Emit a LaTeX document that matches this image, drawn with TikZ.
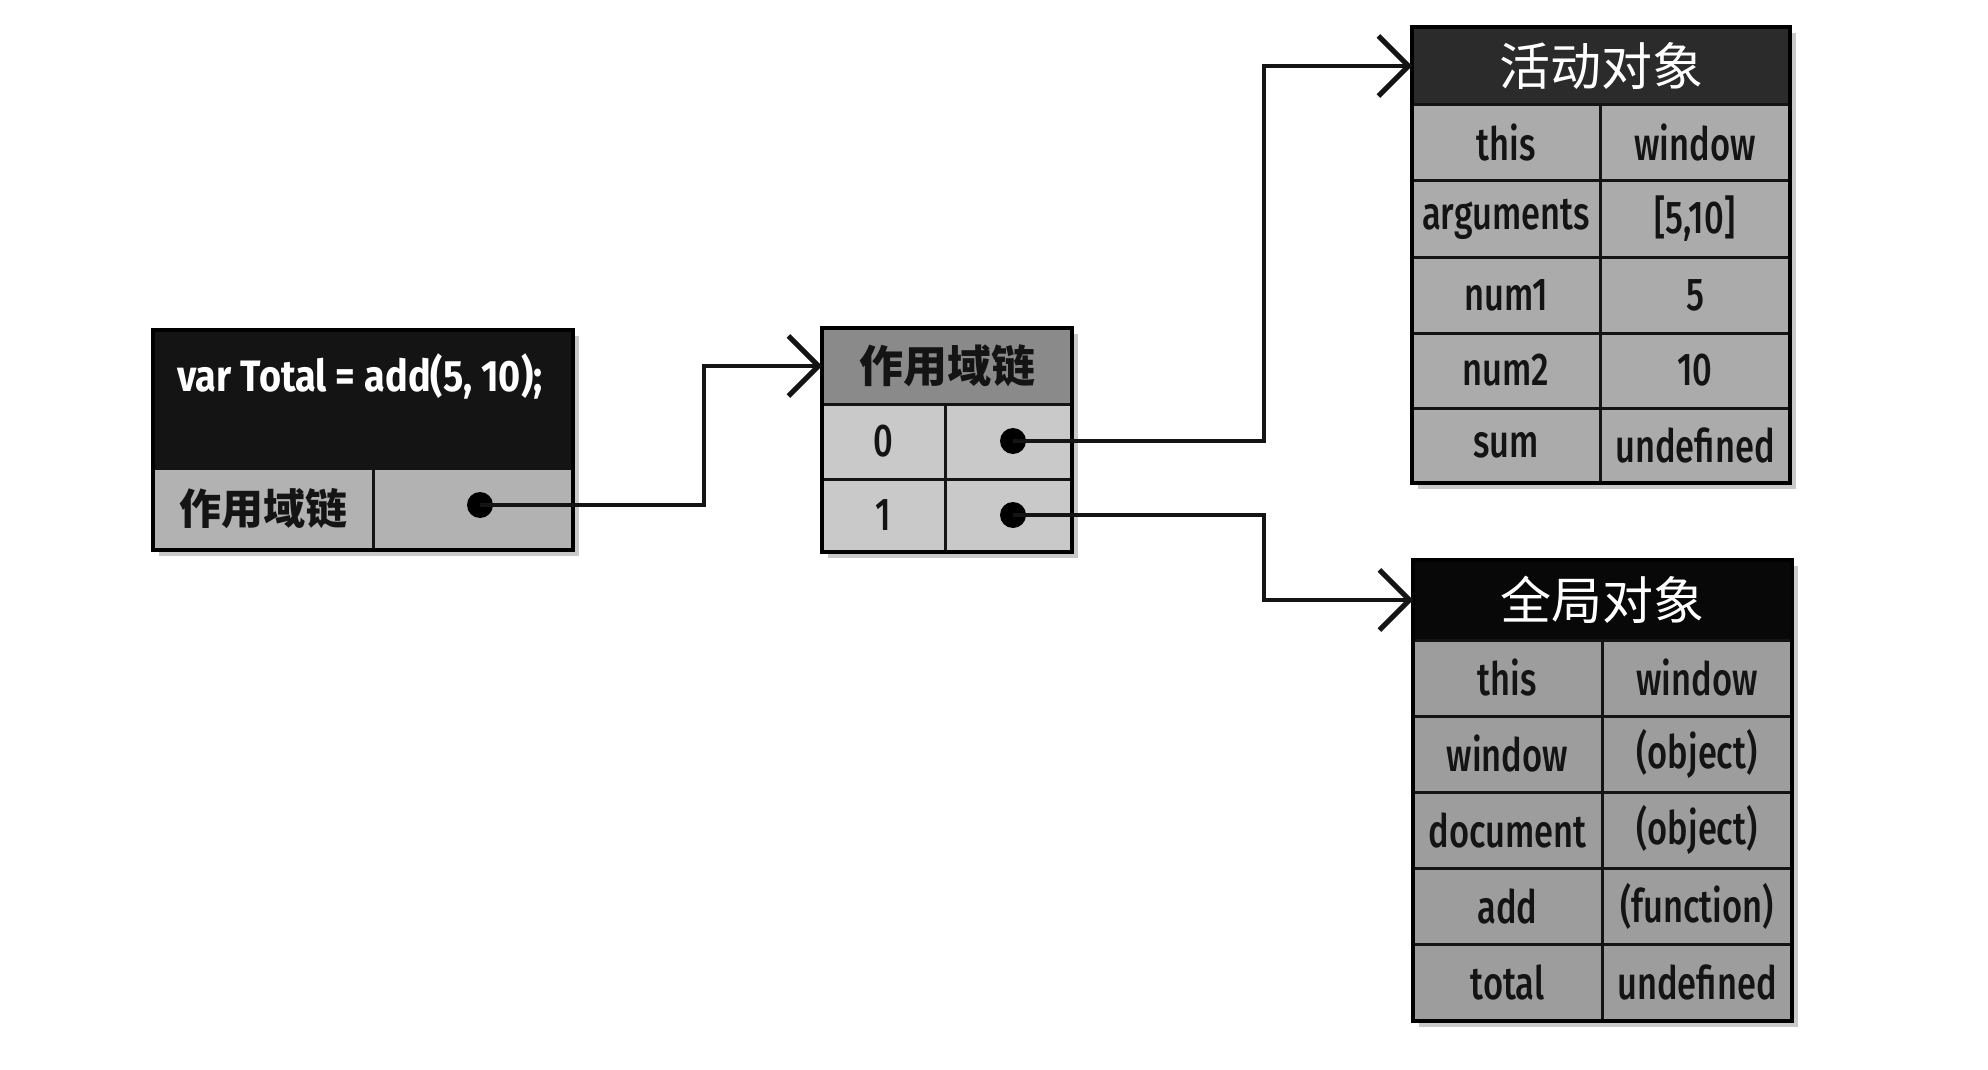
\documentclass[tikz,border=0pt]{standalone}
\usepackage{fontspec}
\setmainfont{Fira Sans}[FakeStretch=0.75,UprightFont={* Medium}]
\newfontfamily\titlefont{Fira Sans}[FakeStretch=0.86]
\newfontfamily\cjk{Noto Sans CJK SC}
\usetikzlibrary{arrows.meta,shadows}
\definecolor{lheadc}{HTML}{141414}
\definecolor{lcellc}{HTML}{B2B2B2}
\definecolor{mheadc}{HTML}{8A8A8A}
\definecolor{mcellc}{HTML}{C9C9C9}
\definecolor{theadc}{HTML}{2B2B2B}
\definecolor{tcellc}{HTML}{ABABAB}
\definecolor{gheadc}{HTML}{080808}
\definecolor{gcellc}{HTML}{9D9D9D}
\definecolor{inkc}{HTML}{141414}
\newcommand\cellbox[7]{\node[#6, minimum width={(#4-#2)*0.5pt}, minimum height={(#5-#3)*0.5pt}] (#1) at ({(#2+#4)/2},{(#3+#5)/2}) {#7};}
\newcommand\rimbox[1]{\draw[line width=2pt] (#1.north west) rectangle (#1.south east);}
\tikzset{
  cellstyle/.style={draw=inkc, line width=1.5pt, inner sep=0pt, outer sep=0pt, text=inkc, font=\fontsize{23pt}{23pt}\selectfont},
  outerbox/.style={fill=white, inner sep=0pt, outer sep=0pt, drop shadow={shadow xshift=3pt, shadow yshift=-3pt, opacity=0.35, fill=black!60}},
  dotn/.style={circle, fill=black, minimum size=13pt, inner sep=0pt},
  conn/.style={line width=2pt, draw=inkc, -{Straight Barb[length=15pt,width=30pt,line width=2.5pt]}},
}
\begin{document}
\begin{tikzpicture}[x=0.5pt,y=-0.5pt]
\useasboundingbox[fill=white] (0,0) rectangle (1988,1070);
% ---------- left box ----------
\cellbox{lbox}{153}{330}{573}{550}{outerbox}{}
\cellbox{lhead}{153}{330}{573}{468}{cellstyle, fill=lheadc}{}
\node[anchor=west, inner sep=0pt, text=white, font=\titlefont\bfseries\fontsize{22pt}{22pt}\selectfont] (ltitle) at (177,376) {var Total = add(5, 10);};
\cellbox{lkey}{153}{468}{373}{550}{cellstyle, fill=lcellc, font=\cjk\bfseries\fontsize{21pt}{21pt}\selectfont}{作用域链}
\cellbox{lval}{373}{468}{573}{550}{cellstyle, fill=lcellc}{}
\rimbox{lbox}
% ---------- middle box ----------
\cellbox{mbox}{822}{328}{1072}{552}{outerbox}{}
\cellbox{mhead}{822}{328}{1072}{404}{cellstyle, fill=mheadc, font=\cjk\bfseries\fontsize{22pt}{22pt}\selectfont}{作用域链}
\cellbox{mk0}{822}{404}{945}{479}{cellstyle, fill=mcellc}{0}
\cellbox{mv0}{945}{404}{1072}{479}{cellstyle, fill=mcellc}{}
\cellbox{mk1}{822}{479}{945}{552}{cellstyle, fill=mcellc}{1}
\cellbox{mv1}{945}{479}{1072}{552}{cellstyle, fill=mcellc}{}
\rimbox{mbox}
% ---------- activation object ----------
\cellbox{tbox}{1412}{27}{1790}{483}{outerbox}{}
\cellbox{thead}{1412}{27}{1790}{105}{cellstyle, fill=theadc, text=white, font=\cjk\fontsize{25.5pt}{25.5pt}\selectfont}{活动对象}
\cellbox{tk1}{1412}{105}{1600}{181}{cellstyle, fill=tcellc}{this}
\cellbox{tv1}{1600}{105}{1790}{181}{cellstyle, fill=tcellc}{window}
\cellbox{tk2}{1412}{181}{1600}{257}{cellstyle, fill=tcellc}{arguments}
\cellbox{tv2}{1600}{181}{1790}{257}{cellstyle, fill=tcellc}{[5,10]}
\cellbox{tk3}{1412}{257}{1600}{333}{cellstyle, fill=tcellc}{num1}
\cellbox{tv3}{1600}{257}{1790}{333}{cellstyle, fill=tcellc}{5}
\cellbox{tk4}{1412}{333}{1600}{408}{cellstyle, fill=tcellc}{num2}
\cellbox{tv4}{1600}{333}{1790}{408}{cellstyle, fill=tcellc}{10}
\cellbox{tk5}{1412}{408}{1600}{483}{cellstyle, fill=tcellc}{sum}
\cellbox{tv5}{1600}{408}{1790}{483}{cellstyle, fill=tcellc}{undefined}
\rimbox{tbox}
% ---------- global object ----------
\cellbox{gbox}{1413}{560}{1792}{1021}{outerbox}{}
\cellbox{ghead}{1413}{560}{1792}{640}{cellstyle, fill=gheadc, text=white, font=\cjk\fontsize{25.5pt}{25.5pt}\selectfont}{全局对象}
\cellbox{gk1}{1413}{640}{1602}{716}{cellstyle, fill=gcellc}{this}
\cellbox{gv1}{1602}{640}{1792}{716}{cellstyle, fill=gcellc}{window}
\cellbox{gk2}{1413}{716}{1602}{792}{cellstyle, fill=gcellc}{window}
\cellbox{gv2}{1602}{716}{1792}{792}{cellstyle, fill=gcellc}{(object)}
\cellbox{gk3}{1413}{792}{1602}{868}{cellstyle, fill=gcellc}{document}
\cellbox{gv3}{1602}{792}{1792}{868}{cellstyle, fill=gcellc}{(object)}
\cellbox{gk4}{1413}{868}{1602}{944}{cellstyle, fill=gcellc}{add}
\cellbox{gv4}{1602}{868}{1792}{944}{cellstyle, fill=gcellc}{(function)}
\cellbox{gk5}{1413}{944}{1602}{1021}{cellstyle, fill=gcellc}{total}
\cellbox{gv5}{1602}{944}{1792}{1021}{cellstyle, fill=gcellc}{undefined}
\rimbox{gbox}
% ---------- dots ----------
\node[dotn] (ldot) at (480,505) {};
\node[dotn] (m0dot) at (1013,441) {};
\node[dotn] (m1dot) at (1013,515) {};
% ---------- connectors ----------
\coordinate (j1) at (704,0);
\coordinate (j2) at (1264,0);
\draw[conn] (ldot.center) -- (ldot.center -| j1) |- (mhead.west);
\draw[conn] (m0dot.center) -- (m0dot.center -| j2) |- (thead.west);
\draw[conn] (m1dot.center) -- (m1dot.center -| j2) |- (ghead.west);
\end{tikzpicture}
\end{document}
